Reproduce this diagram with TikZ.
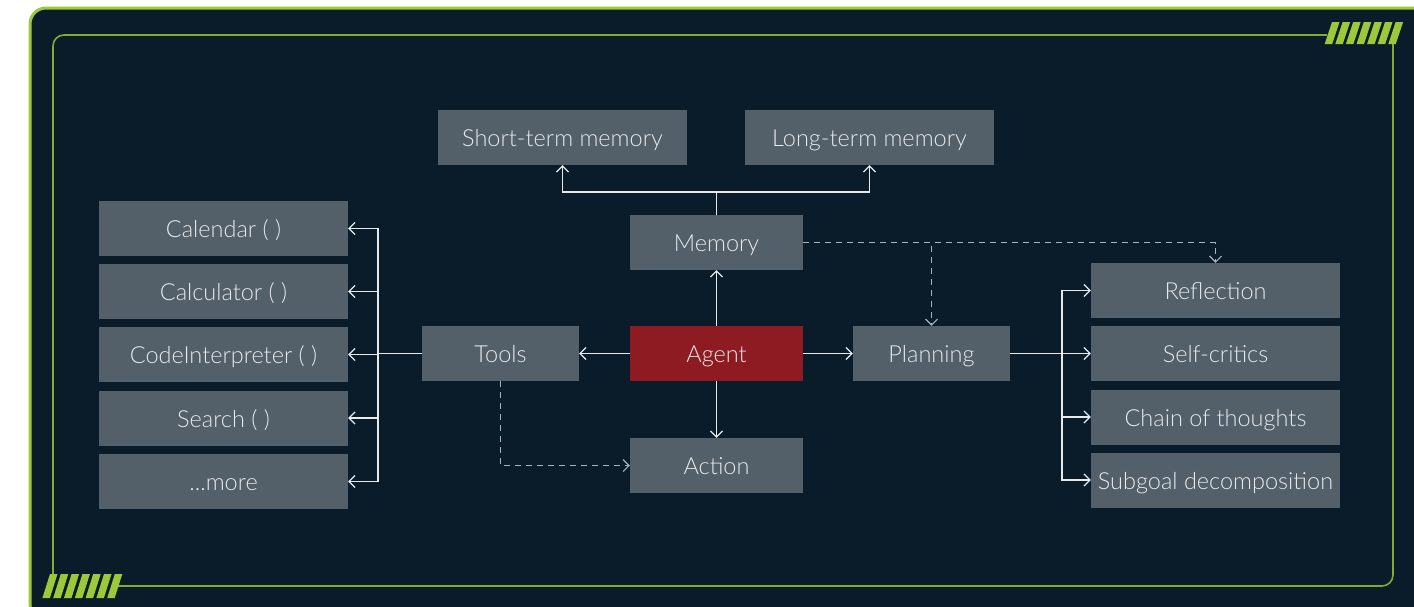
\documentclass[tikz,border=0pt]{standalone}
\usepackage{fontspec}
\setmainfont{Lato}[UprightFont={* Light}]
\usepackage{tikz}
\usetikzlibrary{arrows.meta, calc}

\definecolor{bgdark}{HTML}{0A1C29}
\definecolor{framegreen}{HTML}{9CC83A}
\definecolor{boxgray}{HTML}{535F69}
\definecolor{agentred}{HTML}{8E1B22}
\definecolor{textlight}{HTML}{E6EAEC}
\definecolor{dashgray}{HTML}{A9B2B8}

\begin{document}
\begin{tikzpicture}[x=1pt, y=-1pt,
    box/.style={fill=boxgray, text=textlight, inner sep=0pt, minimum height=55pt, text height=22pt, text depth=4pt, font=\fontsize{23.5}{27}\selectfont},
    widebox/.style={box, minimum width=249pt},
    midbox/.style={box, minimum width=173pt},
    smallbox/.style={box, minimum width=157pt},
    link/.style={draw=textlight, line width=1.4pt, -{Straight Barb[length=6pt, width=12pt, line width=1.2pt]}},
    plainlink/.style={draw=textlight, line width=1.4pt},
    dlink/.style={draw=dashgray, line width=1.2pt, dash pattern=on 6pt off 5pt, -{Straight Barb[length=6pt, width=12pt, line width=1.1pt]}},
    stripe/.style={fill=framegreen}]
    \useasboundingbox (0,0) rectangle (1414,606);
    % frames
    \fill[white] (0,0) rectangle (1414,606);
    \draw[framegreen, fill=bgdark, line width=3pt, rounded corners=16pt] (30,8) rectangle (1428,620);
    \draw[framegreen!85!black, line width=1.6pt, rounded corners=11pt] (1327,35) -- (53,35) -- (53,574);
    \draw[framegreen!85!black, line width=1.6pt, rounded corners=11pt] (1393,44) -- (1393,586) -- (118,586);
    \foreach \i in {0,...,6}{
        \fill[stripe] ($(1332,22)+(\i*10.6,0)$) -- ++(7.5,0) -- ++(-7.3,22) -- ++(-7.5,0) -- cycle;
        \fill[stripe] ($(50,574)+(\i*10.8,0)$) -- ++(7.5,0) -- ++(-7.6,24) -- ++(-7.5,0) -- cycle;
    }

    % nodes
    \node[widebox] (stm) at (562.5,137.5) {Short-term memory};
    \node[widebox] (ltm) at (869.5,137.5) {Long-term memory};
    \node[midbox] (mem) at (716.5,242.5) {Memory};
    \node[midbox, fill=agentred] (agent) at (716.5,353.5) {Agent};
    \node[midbox] (action) at (716.5,465.5) {Action};
    \node[smallbox] (tools) at (500.5,353.5) {Tools};
    \node[smallbox] (plan) at (931.5,353.5) {Planning};

    \node[widebox] (cal) at (223.5,228.5) {Calendar ( )};
    \node[widebox] (calc) at (223.5,291.5) {Calculator ( )};
    \node[widebox] (code) at (223.5,354.5) {CodeInterpreter ( )};
    \node[widebox] (search) at (223.5,418) {Search ( )};
    \node[widebox] (more) at (223.5,481.5) {...more};

    \node[widebox] (refl) at (1215.5,290.5) {Reflection};
    \node[widebox] (self) at (1215.5,353.5) {Self-critics};
    \node[widebox] (chain) at (1215.5,417) {Chain of thoughts};
    \node[widebox] (subgoal) at (1215.5,480) {Subgoal decomposition};

    \coordinate (memsplit) at (716.5,192);
    \coordinate (toolbus) at (378,353.5);
    \coordinate (planbus) at (1062,353.5);

    % connectors
    \draw[plainlink] (mem.north) -- (memsplit);
    \draw[link] (memsplit) -| (stm.south);
    \draw[link] (memsplit) -| (ltm.south);
    \draw[link] (agent) -- (mem);
    \draw[link] (agent) -- (action);
    \draw[link] (agent) -- (tools);
    \draw[link] (agent) -- (plan);
    \draw[plainlink] (tools.west) -- (toolbus);
    \foreach \t in {cal, calc, code, search, more}
        \draw[link] (toolbus) |- (\t.east);
    \draw[plainlink] (plan.east) -- (planbus);
    \foreach \p in {refl, self, chain, subgoal}
        \draw[link] (planbus) |- (\p.west);
    \draw[dlink] (mem.east) -| (refl.north);
    \draw[dlink] (mem.east) -| (plan.north);
    \draw[dlink] (tools.south) |- (action.west);
\end{tikzpicture}
\end{document}
